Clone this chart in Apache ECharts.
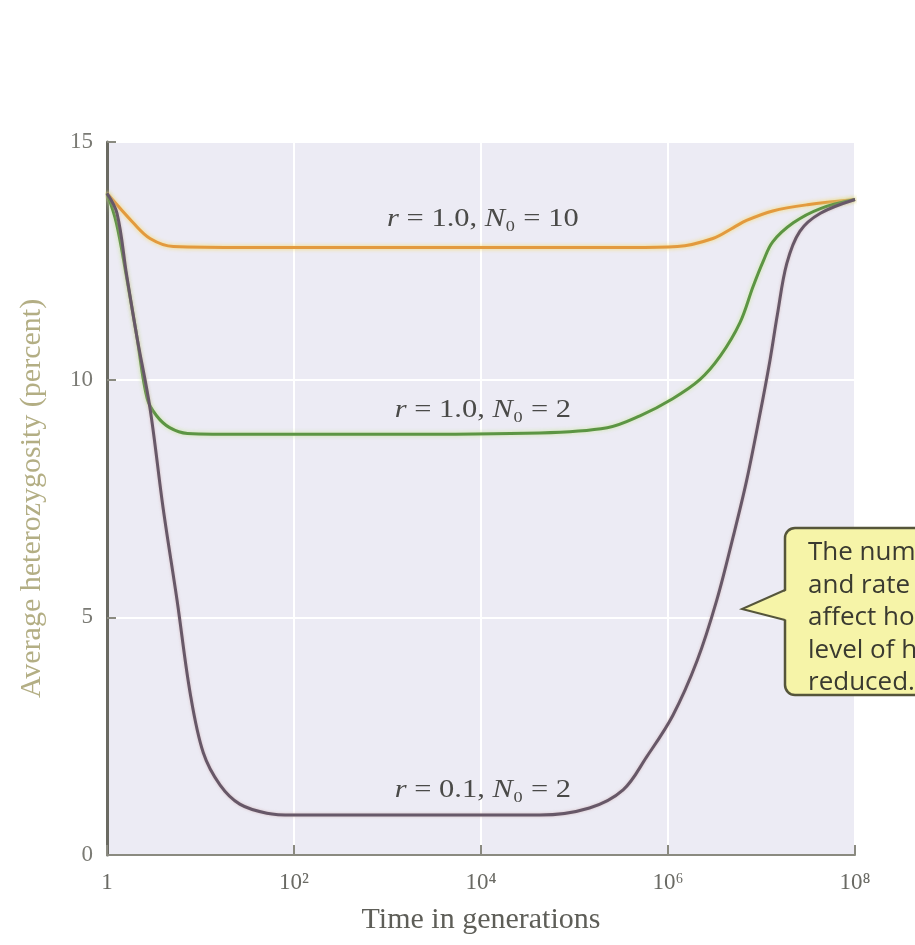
<!DOCTYPE html>
<html>
<head>
<meta charset="utf-8">
<script src="https://cdn.jsdelivr.net/npm/echarts@6/dist/echarts.min.js"></script>
<style>
html,body{margin:0;padding:0;background:#ffffff;}
#chart{width:915px;height:945px;}
</style>
</head>
<body>
<div id="chart"></div>
<script>
// x values are log10(generations)
const xTickValues = [0, 2, 4, 6, 8];
const xTickLabels = ['1', '10²', '10⁴', '10⁶', '10⁸'];
const yTickValues = [0, 5, 10, 15];

const orangeName = 'r = 1.0, N₀ = 10';
const orangeX = [0, 0.28, 0.46, 0.71, 1.5, 3, 4.63, 5.6, 6.1, 6.48, 6.7, 6.84, 7.12, 7.49, 8];
const orangeY = [13.92, 13.3, 12.97, 12.8, 12.78, 12.78, 12.78, 12.78, 12.8, 12.97, 13.2, 13.35, 13.55, 13.68, 13.79];

const greenName = 'r = 1.0, N₀ = 2';
const greenX = [0, 0.1, 0.21, 0.32, 0.43, 0.53, 0.67, 0.86, 1.5, 3, 4.63, 5.35, 5.7, 6.05, 6.34, 6.56, 6.77, 6.91, 7.02, 7.12, 7.34, 7.63, 8];
const greenY = [13.92, 13.3, 12.15, 10.9, 9.6, 9.24, 8.99, 8.87, 8.85, 8.85, 8.88, 8.99, 9.24, 9.6, 10.0, 10.5, 11.2, 11.96, 12.5, 12.9, 13.3, 13.6, 13.79];

const purpleName = 'r = 0.1, N₀ = 2';
const purpleX = [0, 0.107, 0.21, 0.32, 0.46, 0.6, 0.75, 0.89, 1.03, 1.21, 1.42, 1.71, 1.99, 3, 4.63, 5.16, 5.52, 5.77, 6.05, 6.31, 6.52, 6.7, 6.84, 6.98, 7.09, 7.17, 7.27, 7.41, 7.63, 8];
const purpleY = [13.92, 13.5, 12.2, 10.9, 9.4, 7.3, 5.35, 3.4, 2.15, 1.47, 1.07, 0.88, 0.84, 0.84, 0.84, 0.99, 1.37, 2.06, 2.93, 4.08, 5.35, 6.72, 7.87, 9.24, 10.4, 11.37, 12.44, 13.12, 13.5, 13.79];

// label anchor points (data coordinates)
const labelPos = {orange: [4.02, 13.38], green: [4.02, 9.35], purple: [4.02, 1.35]};
const labelRich = {
  orange: '{i|r}{n| = 1.0, }{i|N}{n|₀ = 10}',
  green: '{i|r}{n| = 1.0, }{i|N}{n|₀ = 2}',
  purple: '{i|r}{n| = 0.1, }{i|N}{n|₀ = 2}'
};

const calloutLines = ['The number of founders', 'and rate of population growth', 'affect how much the', 'level of heterozygosity is', 'reduced.'];

function zip(xs, ys){ return xs.map((x, i) => [x, ys[i]]); }

const chart = echarts.init(document.getElementById('chart'), null, {renderer: 'canvas'});
const serif = '"Liberation Serif", "DejaVu Serif", serif';

const option = {
  backgroundColor: '#ffffff',
  animation: false,
  grid: {left: 107, top: 142, right: 60, bottom: 90, show: true, backgroundColor: '#ecebf4', borderWidth: 0},
  xAxis: {
    type: 'value', min: 0, max: 8, interval: 2,
    name: 'Time in generations', nameLocation: 'middle', nameGap: 50,
    nameTextStyle: {fontFamily: serif, fontSize: 30, color: '#5e5e58'},
    axisLine: {show: true, lineStyle: {color: '#8a8a80', width: 2}},
    axisTick: {show: true, inside: true, length: 10, lineStyle: {color: '#8a8a80', width: 2}},
    axisLabel: {fontFamily: serif, fontSize: 23, color: '#6a6a64', margin: 16,
      formatter: v => { const i = xTickValues.indexOf(v); return i >= 0 ? xTickLabels[i] : ''; }},
    splitLine: {show: true, lineStyle: {color: '#ffffff', width: 2}}
  },
  yAxis: {
    type: 'value', min: 0, max: 15, interval: 5,
    name: 'Average heterozygosity (percent)', nameLocation: 'middle', nameGap: 60, nameRotate: 90,
    nameTextStyle: {fontFamily: serif, fontSize: 30, color: '#b3ae84'},
    axisLine: {show: true, lineStyle: {color: '#6a6a62', width: 3}},
    axisTick: {show: true, inside: true, length: 9, lineStyle: {color: '#8a8a80', width: 2}},
    axisLabel: {fontFamily: serif, fontSize: 23, color: '#7a7a74', margin: 14},
    splitLine: {show: true, lineStyle: {color: '#ffffff', width: 2}}
  },
  series: [
    {name: orangeName, type: 'line', data: zip(orangeX, orangeY), smooth: 0.35, showSymbol: false,
      lineStyle: {color: '#e39a3e', width: 3, shadowColor: 'rgba(245,215,90,0.9)', shadowBlur: 4}},
    {name: greenName, type: 'line', data: zip(greenX, greenY), smooth: 0.35, showSymbol: false,
      lineStyle: {color: '#5c9543', width: 3, shadowColor: 'rgba(200,230,150,0.9)', shadowBlur: 4}},
    {name: purpleName, type: 'line', data: zip(purpleX, purpleY), smooth: 0.35, showSymbol: false,
      lineStyle: {color: '#675868', width: 3, shadowColor: 'rgba(200,160,160,0.6)', shadowBlur: 3}}
  ]
};
chart.setOption(option);

function curveLabel(richText, pos){
  const p = chart.convertToPixel({gridIndex: 0}, pos);
  const base = {fontFamily: serif, fontSize: 25, fill: '#4a4a48'};
  return {
    type: 'text', x: p[0], y: p[1], scaleX: 1.22,
    style: {text: richText, font: '25px ' + serif, fill: '#4a4a48', align: 'center', verticalAlign: 'middle',
      rich: {i: Object.assign({fontStyle: 'italic'}, base), n: Object.assign({}, base)}},
    silent: true
  };
}

const bx = 785, by = 528, bw = 200, bh = 167;
const fill = '#f6f4a8', stroke = '#55553a';
const textEls = calloutLines.map((t, i) => ({
  type: 'text', x: 808, y: 553 + i * 32.5,
  style: {text: t, font: '26px "Open Sans", "Noto Sans", sans-serif', fill: '#3a3a30', align: 'left', verticalAlign: 'middle'},
  silent: true
}));

chart.setOption({
  graphic: [
    curveLabel(labelRich.orange, labelPos.orange),
    curveLabel(labelRich.green, labelPos.green),
    curveLabel(labelRich.purple, labelPos.purple),
    {type: 'rect', shape: {x: bx, y: by, width: bw, height: bh, r: 10}, style: {fill: fill, stroke: stroke, lineWidth: 2.5}, silent: true},
    {type: 'polygon', shape: {points: [[bx + 3, 590], [742, 609], [bx + 3, 620]]}, style: {fill: fill}, silent: true},
    {type: 'polyline', shape: {points: [[bx, 590], [742, 609], [bx, 620]]}, style: {stroke: stroke, lineWidth: 2, fill: null}, silent: true}
  ].concat(textEls)
});
</script>
</body>
</html>
